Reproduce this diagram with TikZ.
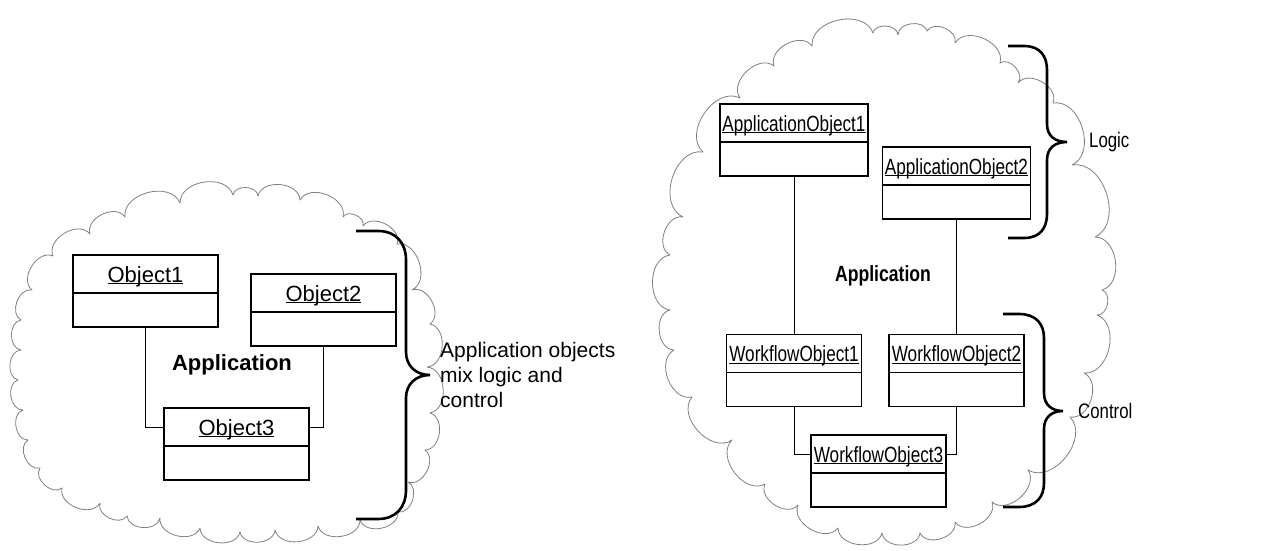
\documentclass[tikz,border=0pt]{standalone}
\usepackage{fontspec}
\setmainfont{Liberation Sans}
\newcommand{\ulbox}[1]{\setbox0\hbox{#1}\rlap{\rule[-2.2pt]{\wd0}{1pt}}\box0}
\newcommand{\narrow}[1]{\scalebox{0.8}[1]{#1}}
\begin{document}
\begin{tikzpicture}[x=1pt,y=-1pt,
  cloudline/.style={draw=black!50, line width=0.8pt, line join=round},
  puff/.style={bend left=82, looseness=1.1},
  objbox/.style={draw, line width=1.6pt, minimum height=72pt, inner sep=0pt},
  objtitle/.style={draw, line width=1.6pt, minimum height=38pt, inner sep=0pt, anchor=north,
     text height=16pt, text depth=0pt, font=\fontsize{22}{25}\selectfont},
  link/.style={draw, line width=0.9pt},
  bracestyle/.style={draw, line width=2.6pt},
  lbl/.style={inner sep=0pt, font=\fontsize{21}{25}\selectfont},
  bold/.style={inner sep=0pt, font=\fontsize{22}{25}\selectfont\bfseries}]
\useasboundingbox (0,0) rectangle (1266,551);

% ---------- left cloud ----------
\draw[cloudline] (53,256) to[puff] (90,234) to[puff] (125,217) to[puff] (180,203)
  to[puff] (233,195) to[puff] (258,196) to[puff] (300,200) to[puff] (343,217)
  to[puff] (363,226) to[puff] (397,244) to[puff] (412,290) to[puff] (430,324)
  to[puff] (427,367) to[puff] (430,413) to[puff] (425,450) to[puff] (408,482)
  to[puff] (398,512) to[puff] (360,520) to[puff] (318,526) to[puff] (275,530)
  to[puff] (240,532) to[puff] (200,528) to[puff] (160,518) to[puff] (127,516)
  to[puff] (100,503) to[puff] (62,488) to[puff] (40,468) to[puff] (28,440)
  to[puff] (23,410) to[puff] (18,380) to[puff] (21,350) to[puff] (21,320)
  to[puff] (32,290) to[puff] (53,256);

% ---------- right cloud ----------
\draw[cloudline] (670,310) to[puff] (670,255) to[puff] (683,217) to[puff] (703,152)
  to[puff] (740,98) to[puff] (774,66) to[puff] (812,46) to[puff] (873,33)
  to[puff] (898,35) to[puff] (927,31) to[puff] (955,43) to[puff] (1000,63)
  to[puff] (1018,83) to[puff] (1053,103) to[puff] (1072,165) to[puff] (1095,237)
  to[puff] (1102,290) to[puff] (1097,315) to[puff] (1084,373) to[puff] (1070,417)
  to[puff] (1028,470) to[puff] (992,502) to[puff] (955,522) to[puff] (920,533)
  to[puff] (882,533) to[puff] (838,528) to[puff] (798,505) to[puff] (765,484)
  to[puff] (732,440) to[puff] (692,397) to[puff] (674,350) to[puff] (670,310);

% ---------- left objects ----------
\node[objbox, minimum width=145pt] (o1) at (145.5,291) {};
\node[objtitle, minimum width=145pt] (o1t) at (o1.north) {\ulbox{Object1}};
\node[objbox, minimum width=145pt] (o2) at (323.5,310) {};
\node[objtitle, minimum width=145pt] (o2t) at (o2.north) {\ulbox{Object2}};
\node[objbox, minimum width=145pt] (o3) at (236.5,444) {};
\node[objtitle, minimum width=145pt] (o3t) at (o3.north) {\ulbox{Object3}};

\path[link] (o1.south) |- (o3t.west);
\path[link] (o2.south) |- (o3t.east);

\node[bold] (app1) at (232,365) {Application};

\draw[bracestyle] (356,231) -- (378,231) .. controls (396,231) and (406,243) .. (406,260)
  -- (406,352) .. controls (406,366) and (416,375) .. (430,375)
  .. controls (416,375) and (406,384) .. (406,398) -- (406,490)
  .. controls (406,507) and (396,519) .. (378,519) -- (356,519);
\node[lbl, anchor=west, align=left] (mix) at (440,375) {Application objects\\mix logic and\\control};

% ---------- right objects ----------
\node[objbox, minimum width=148pt] (ao1) at (794,140) {};
\node[objtitle, minimum width=148pt] (ao1t) at (ao1.north) {\scalebox{0.78}[1]{\ulbox{ApplicationObject1}}};
\node[objbox, minimum width=148pt] (ao2) at (956.5,183) {};
\node[objtitle, minimum width=148pt] (ao2t) at (ao2.north) {\scalebox{0.78}[1]{\ulbox{ApplicationObject2}}};
\node[objbox, minimum width=135pt] (wo1) at (794,370.5) {};
\node[objtitle, minimum width=135pt] (wo1t) at (wo1.north) {\scalebox{0.78}[1]{\ulbox{WorkflowObject1}}};
\node[objbox, minimum width=135pt] (wo2) at (956.5,370.5) {};
\node[objtitle, minimum width=135pt] (wo2t) at (wo2.north) {\scalebox{0.78}[1]{\ulbox{WorkflowObject2}}};
\node[objbox, minimum width=135pt] (wo3) at (878.5,471) {};
\node[objtitle, minimum width=135pt] (wo3t) at (wo3.north) {\scalebox{0.78}[1]{\ulbox{WorkflowObject3}}};

\path[link] (ao1.south) -- (wo1t.north);
\path[link] (ao2.south) -- (wo2t.north);
\path[link] (wo1.south) |- (wo3t.west);
\path[link] (wo2.south) |- (wo3t.east);

\node[bold] (app2) at (883,276) {\narrow{Application}};

\draw[bracestyle] (1008,46) -- (1024,46) .. controls (1040,46) and (1047,56) .. (1047,70)
  -- (1047,124) .. controls (1047,136) and (1055,142) .. (1067,142)
  .. controls (1055,142) and (1047,148) .. (1047,160) -- (1047,214)
  .. controls (1047,228) and (1040,238) .. (1024,238) -- (1008,238);
\node[lbl, anchor=west] (logic) at (1089,142) {\narrow{Logic}};

\draw[bracestyle] (1003,314) -- (1019,314) .. controls (1036,314) and (1044,324) .. (1044,338)
  -- (1044,393) .. controls (1044,405) and (1052,411) .. (1063,411)
  .. controls (1052,411) and (1044,417) .. (1044,429) -- (1044,483)
  .. controls (1044,497) and (1036,507) .. (1019,507) -- (1003,507);
\node[lbl, anchor=west] (control) at (1078,411) {\narrow{Control}};
\end{tikzpicture}
\end{document}
